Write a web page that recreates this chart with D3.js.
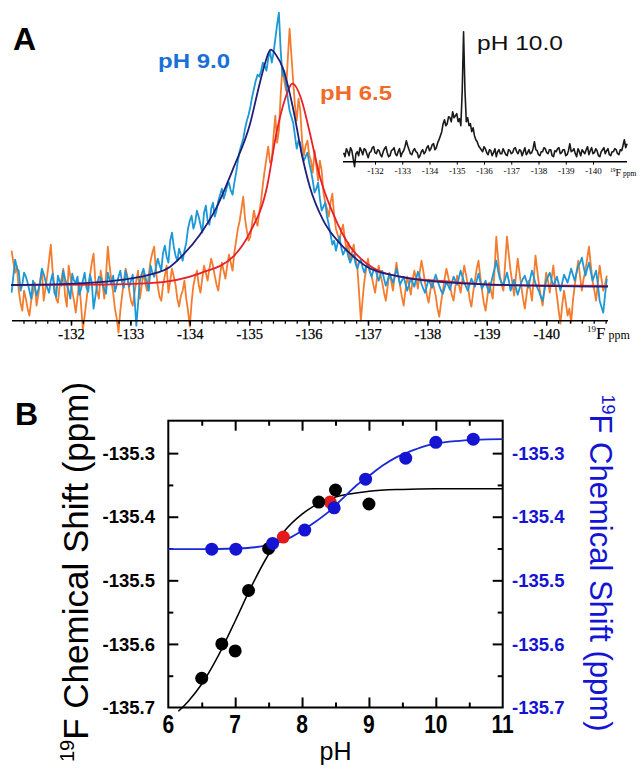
<!DOCTYPE html>
<html><head><meta charset="utf-8">
<script src="https://cdn.jsdelivr.net/npm/d3@7"></script>
<style>body{margin:0;background:#fff}svg{display:block}</style>
</head><body>
<script>
// ---------- DATA ----------
// Panel A: spectra sampled on a uniform ppm grid (intensity, arbitrary units)
const specStart = -131.0, specStep = -0.03;
const bluePH90 = [28,45,61,52,50,30,36,48,44,38,30,22,40,34,25,31,38,52,47,40,
33,28,40,47,28,24,45,39,35,50,42,36,30,22,47,40,38,44,26,32,
40,48,33,29,46,38,12,24,36,44,43,37,31,27,48,41,37,45,29,36,
44,50,38,33,50,42,34,40,46,22,-5,18,40,47,52,44,38,30,55,48,
44,53,62,56,50,68,75,64,58,80,88,74,65,60,72,66,60,70,78,92,
100,105,92,98,110,104,96,88,108,115,100,96,112,118,104,110,120,126,132,122,
128,135,138,130,126,138,148,160,170,176,182,192,200,206,214,224,232,240,246,244,
250,258,255,250,262,270,258,268,282,296,308,270,245,250,236,222,210,204,198,185,
172,180,178,165,160,164,168,158,150,140,128,132,138,122,110,114,118,104,96,86,
76,80,70,78,84,73,66,70,72,64,58,63,66,57,52,58,61,53,48,55,
56,49,44,50,52,46,40,46,50,42,35,40,47,43,38,44,52,45,36,40,
44,37,30,36,42,38,34,42,49,44,37,32,28,35,41,37,33,40,46,40,
35,30,27,33,39,35,31,38,44,40,36,43,50,44,38,34,30,36,42,38,
34,40,47,39,32,36,40,33,28,37,45,52,60,50,42,38,36,42,48,40,
30,36,41,33,26,32,38,42,45,39,33,42,50,44,37,33,29,24,20,30,
40,44,48,41,35,39,44,37,30,38,46,42,38,45,52,46,40,48,55,58,
63,54,45,52,58,49,40,45,50,36,20,14,8,25,42];
const orangePH65 = [70,58,48,55,30,18,10,30,22,12,5,20,28,38,15,26,40,50,20,32,
45,60,76,50,35,22,18,35,42,52,25,14,55,44,30,20,8,24,38,15,
-9,5,20,36,45,58,67,40,30,22,50,38,22,46,74,55,40,28,12,2,
-12,10,25,40,52,44,30,20,15,28,40,50,22,35,48,38,30,46,60,68,
74,50,35,24,20,36,45,55,28,40,52,44,36,22,14,25,30,40,22,10,
-6,18,35,44,50,36,28,42,55,48,40,52,62,55,45,36,30,46,58,50,
42,55,66,58,50,68,80,92,100,112,124,102,90,80,84,98,110,100,95,108,
120,136,150,162,174,158,160,185,205,178,190,226,254,240,230,262,292,266,240,215,
200,222,210,180,165,175,180,166,160,148,170,155,140,160,150,128,118,112,104,118,
127,105,92,86,80,90,96,82,70,78,60,68,76,62,54,28,0,22,40,52,
62,50,45,36,28,42,55,46,38,28,20,34,48,40,30,45,58,44,35,24,
15,30,44,36,26,40,50,42,32,48,60,50,38,26,18,30,40,33,25,12,
4,18,30,42,52,44,35,26,20,34,45,36,28,42,55,46,36,22,14,28,
40,52,60,44,30,18,10,24,38,30,22,50,84,62,45,36,30,58,84,66,
50,38,25,44,62,48,35,22,12,26,40,32,20,42,65,50,35,24,15,32,
48,40,28,42,55,38,25,10,-3,16,30,18,5,12,-2,20,35,48,60,44,
30,42,50,62,74,56,40,30,20,38,55,42,30,36,45];
// Lorentzian fits: [ppm, intensity]
const fitPH90 = [[-130.99,35.7],[-131.82,36.5],[-132.49,38.5],[-132.99,42],[-133.33,46],[-133.67,54],[-133.89,66],[-134.17,86],[-134.44,112],[-134.73,152],[-135.01,196],[-135.18,238],[-135.28,260],[-135.36,271],[-135.45,266],[-135.57,252],[-135.74,212],[-135.88,168],[-136.02,134],[-136.24,101],[-136.53,77],[-136.70,67],[-136.98,54],[-137.54,44],[-138.38,38],[-139.78,35],[-141.04,34]];
const fitPH65 = [[-130.99,35.5],[-132.49,36],[-133.33,37.5],[-134.17,47.4],[-134.73,64],[-135.01,88],[-135.30,134],[-135.46,188],[-135.60,221],[-135.73,237],[-135.88,221],[-136.02,188],[-136.19,144],[-136.42,106],[-136.70,74],[-136.98,57],[-137.54,44],[-138.38,39],[-139.22,35.7],[-141.04,34.7]];
// inset pH 10.0 spectrum
const insetStart = -130.85, insetStep = -0.05;
const blackPH100 = [9,5,13,10,6,14,11,3,-5,8,10,6,14,11,7,13,12,8,4,9,
10,14,15,9,8,12,11,7,5,10,13,15,9,5,6,11,12,14,8,6,
10,13,5,9,11,15,21,16,12,8,7,11,13,10,9,4,6,10,12,8,
10,14,16,11,13,17,18,12,14,19,22,26,30,38,42,36,38,45,44,40,
50,44,46,48,40,43,36,70,130,72,40,44,36,38,30,34,26,22,20,16,
14,12,10,15,13,9,7,12,11,6,9,13,5,10,12,8,8,13,10,7,
6,12,11,8,9,13,14,10,8,12,11,6,10,14,7,9,12,8,9,13,
20,12,11,7,6,10,10,14,13,9,8,12,12,6,5,11,10,13,14,8,
9,12,12,6,7,11,18,10,11,13,8,5,13,10,6,12,10,8,12,15,
7,11,14,8,9,13,11,6,5,10,12,14,8,11,13,7,6,10,10,13,
12,8,7,12,11,16,22,14,18];
const ppmTicks = [-132,-133,-134,-135,-136,-137,-138,-139,-140];

// Panel B
const blackPH = [6.5,6.8,7.0,7.2,7.5,8.25,8.5,9.0];
const blackShift = [-135.654,-135.600,-135.611,-135.516,-135.450,-135.377,-135.358,-135.380];
const redPH = [7.72,8.42];
const redShift = [-135.432,-135.377];
const bluePH = [6.65,7.01,7.56,8.04,8.48,8.95,9.55,10.0,10.56];
const blueShift = [-135.451,-135.451,-135.442,-135.421,-135.386,-135.341,-135.308,-135.283,-135.278];
const blackFitPH = [6.15,6.3,6.5,6.75,7.0,7.25,7.5,7.75,8.0,8.25,8.5,9.0,9.5,10.0,11.0];
const blackFitShift = [-135.706,-135.690,-135.663,-135.618,-135.564,-135.508,-135.459,-135.421,-135.396,-135.379,-135.369,-135.360,-135.357,-135.356,-135.356];
const blueFitPH = [6.0,6.5,7.0,7.3,7.6,7.8,8.0,8.2,8.4,8.6,8.8,9.0,9.2,9.4,9.6,9.8,10.0,10.3,10.6,11.0];
const blueFitShift = [-135.451,-135.451,-135.450,-135.448,-135.442,-135.434,-135.422,-135.408,-135.392,-135.372,-135.352,-135.336,-135.320,-135.307,-135.298,-135.290,-135.285,-135.281,-135.279,-135.278];
const phTicks = [6,7,8,9,10,11];
const shiftTicks = [-135.3,-135.4,-135.5,-135.6,-135.7];

// ---------- DRAW ----------
const svg = d3.select('body').append('svg').attr('width',644).attr('height',771);
const SANS = 'Liberation Sans, Arial, Helvetica, sans-serif';
const SERIF = 'Liberation Serif, Times New Roman, serif';
function stretch(sel, w){ sel.attr('textLength', w).attr('lengthAdjust','spacingAndGlyphs'); return sel; }

// ===== Panel A =====
const xA = d3.scaleLinear().domain([-132,-140]).range([71,546.2]);
const yA = d3.scaleLinear().domain([0,310]).range([320.7,10.7]);
const specPts = arr => arr.map((v,i)=>[specStart+specStep*i, v]);
const lineA = d3.line().x(d=>xA(d[0])).y(d=>yA(d[1]));
const fitLine = d3.line().x(d=>xA(d[0])).y(d=>yA(d[1])).curve(d3.curveMonotoneX);

svg.append('path').datum(specPts(orangePH65)).attr('d',lineA)
  .attr('fill','none').attr('stroke','#f37c2e').attr('stroke-width',1.8).attr('stroke-linejoin','round');
svg.append('path').datum(specPts(bluePH90)).attr('d',lineA)
  .attr('fill','none').attr('stroke','#1c98d6').attr('stroke-width',1.8).attr('stroke-linejoin','round');
svg.append('path').datum(fitPH65).attr('d',fitLine)
  .attr('fill','none').attr('stroke','#e8202a').attr('stroke-width',1.8);
svg.append('path').datum(fitPH90).attr('d',fitLine)
  .attr('fill','none').attr('stroke','#1f1f7a').attr('stroke-width',1.8);

// axis A
const axA = svg.append('g').attr('transform','translate(0,320.7)');
axA.append('line').attr('x1',12).attr('x2',608).attr('stroke','#000').attr('stroke-width',1.6);
const minorA = d3.range(-131.2,-141.01,-0.2);
axA.call(g=>{
  const gm = g.append('g').call(d3.axisBottom(xA).tickValues(minorA).tickSize(3).tickFormat(''));
  gm.select('.domain').remove();
  gm.selectAll('line').attr('stroke-width',1.3);
  const gM = g.append('g').call(d3.axisBottom(xA).tickValues(ppmTicks).tickSize(5).tickPadding(3).tickFormat(d=>String(d)));
  gM.select('.domain').remove();
  gM.selectAll('line').attr('stroke-width',1.5);
  gM.selectAll('text').attr('font-family',SERIF).attr('font-size',14.5).attr('fill','#000')
    .attr('stroke','#000').attr('stroke-width',0.25);
});
const uA = svg.append('text').attr('x',587).attr('y',339).attr('font-family',SERIF).attr('fill','#000');
uA.append('tspan').attr('font-size',9).attr('dy',-7).text('19');
uA.append('tspan').attr('font-size',17).attr('dy',7).text('F');
uA.append('tspan').attr('font-size',12).attr('dx',3).text('ppm');

// labels A
svg.append('text').attr('x',13).attr('y',50).attr('font-family',SANS).attr('font-weight','bold').attr('font-size',32).text('A');
stretch(svg.append('text').attr('x',158).attr('y',68).attr('font-family',SANS).attr('font-weight','bold').attr('font-size',20).attr('fill','#1a6fd8').text('pH 9.0'),72);
stretch(svg.append('text').attr('x',320).attr('y',100).attr('font-family',SANS).attr('font-weight','bold').attr('font-size',20).attr('fill','#f26a2a').text('pH 6.5'),72);
stretch(svg.append('text').attr('x',477).attr('y',50).attr('font-family',SANS).attr('font-size',20.5).attr('fill','#111').text('pH 10.0'),86);

// inset
const xI = d3.scaleLinear().domain([-132,-140]).range([375,593]);
const yI = d3.scaleLinear().domain([0,130]).range([161.7,31.7]);
const insetPts = blackPH100.map((v,i)=>[insetStart+insetStep*i, v]);
svg.append('path').datum(insetPts).attr('d', d3.line().x(d=>xI(d[0])).y(d=>yI(d[1])))
  .attr('fill','none').attr('stroke','#1a1a1a').attr('stroke-width',1.6).attr('stroke-linejoin','round');
const axI = svg.append('g').attr('transform','translate(0,161.7)');
axI.append('line').attr('x1',343).attr('x2',627).attr('stroke','#000').attr('stroke-width',1.5);
const gI = axI.append('g').call(d3.axisBottom(xI).tickValues(ppmTicks).tickSize(3).tickPadding(3).tickFormat(d=>String(d)));
gI.select('.domain').remove();
gI.selectAll('text').attr('font-family',SERIF).attr('font-size',9).attr('fill','#000');
const uI = svg.append('text').attr('x',610).attr('y',175.5).attr('font-family',SERIF).attr('fill','#000');
uI.append('tspan').attr('font-size',5.5).attr('dy',-4).text('19');
uI.append('tspan').attr('font-size',10).attr('dy',4).text('F');
uI.append('tspan').attr('font-size',7.5).attr('dx',2).text('ppm');

// ===== Panel B =====
const xB = d3.scaleLinear().domain([6,11]).range([168.3,502.7]);
const yB = d3.scaleLinear().domain([-135.7,-135.249]).range([707.5,420.7]);
const BLUE = '#1414d2';
const gB = svg.append('g');
gB.append('rect').attr('x',168.3).attr('y',420.7).attr('width',334.4).attr('height',286.8)
  .attr('fill','none').attr('stroke','#000').attr('stroke-width',2);

const phMinor = [6.5,7.5,8.5,9.5,10.5];
const phMajorIn = [7,8,9,10];
const shMinor = [-135.35,-135.45,-135.55,-135.65];
function ticks(axisFn, scale, vals, size, tr){
  const g = gB.append('g').attr('transform',tr).call(axisFn(scale).tickValues(vals).tickSize(size).tickFormat(''));
  g.select('.domain').remove();
  g.selectAll('line').attr('stroke','#000').attr('stroke-width',2);
}
ticks(d3.axisBottom, xB, phMajorIn, -10, 'translate(0,707.5)');
ticks(d3.axisBottom, xB, phMinor, -5, 'translate(0,707.5)');
ticks(d3.axisTop, xB, phMajorIn, -10, 'translate(0,420.7)');
ticks(d3.axisTop, xB, phMinor, -5, 'translate(0,420.7)');
ticks(d3.axisLeft, yB, shiftTicks.slice(0,4), -10, 'translate(168.3,0)');
ticks(d3.axisLeft, yB, shMinor, -5, 'translate(168.3,0)');
ticks(d3.axisRight, yB, shiftTicks.slice(0,4), -10, 'translate(502.7,0)');
ticks(d3.axisRight, yB, shMinor, -5, 'translate(502.7,0)');

// tick labels
gB.selectAll('.ly').data(shiftTicks).join('text').attr('x',155).attr('y',d=>yB(d)).attr('dy','0.36em')
  .attr('text-anchor','end').attr('font-family',SANS).attr('font-weight','bold').attr('font-size',18.5).text(d=>d.toFixed(1));
gB.selectAll('.ry').data(shiftTicks).join('text').attr('x',512).attr('y',d=>yB(d)).attr('dy','0.36em')
  .attr('text-anchor','start').attr('font-family',SANS).attr('font-weight','bold').attr('font-size',18.5).attr('fill',BLUE).text(d=>d.toFixed(1));
gB.selectAll('.bx').data(phTicks).join('text')
  .attr('transform',d=>`translate(${xB(d)},733) scale(1.05,1.3)`)
  .attr('text-anchor','middle').attr('font-family',SANS).attr('font-weight','bold').attr('font-size',20).text(d=>d);

// curves
const lineB = d3.line().x(d=>xB(d[0])).y(d=>yB(d[1])).curve(d3.curveMonotoneX);
gB.append('path').datum(blackFitPH.map((p,i)=>[p,blackFitShift[i]])).attr('d',lineB)
  .attr('fill','none').attr('stroke','#000').attr('stroke-width',1.5);
gB.append('path').datum(blueFitPH.map((p,i)=>[p,blueFitShift[i]])).attr('d',lineB)
  .attr('fill','none').attr('stroke','#1a2ad4').attr('stroke-width',1.8);

// points
const R = 6.5;
gB.selectAll('.rp').data(redPH).join('circle').attr('cx',d=>xB(d)).attr('cy',(d,i)=>yB(redShift[i])).attr('r',R).attr('fill','#e41a1a');
gB.selectAll('.bp').data(blackPH).join('circle').attr('cx',d=>xB(d)).attr('cy',(d,i)=>yB(blackShift[i])).attr('r',R).attr('fill','#000');
gB.selectAll('.up').data(bluePH).join('circle').attr('cx',d=>xB(d)).attr('cy',(d,i)=>yB(blueShift[i])).attr('r',R).attr('fill',BLUE);

// axis labels
svg.append('text').attr('x',15).attr('y',425).attr('font-family',SANS).attr('font-weight','bold').attr('font-size',32).text('B');
svg.append('text').attr('x',xB(8.5)).attr('y',760).attr('text-anchor','middle').attr('font-family',SANS).attr('font-size',25).text('pH');
const ly = svg.append('text').attr('transform','translate(88,572) rotate(-90)').attr('text-anchor','middle')
  .attr('font-family',SANS).attr('font-size',35).attr('fill','#000');
ly.append('tspan').attr('font-size',20).attr('dy',-14).text('19');
ly.append('tspan').attr('dy',14).text('F Chemical Shift (ppm)');
const ry = svg.append('text').attr('transform','translate(590,563) rotate(90)').attr('text-anchor','middle')
  .attr('font-family',SANS).attr('font-size',31).attr('fill',BLUE);
ry.append('tspan').attr('font-size',18).attr('dy',-12).text('19');
ry.append('tspan').attr('dy',12).text('F Chemical Shift (ppm)');
</script>
</body></html>
